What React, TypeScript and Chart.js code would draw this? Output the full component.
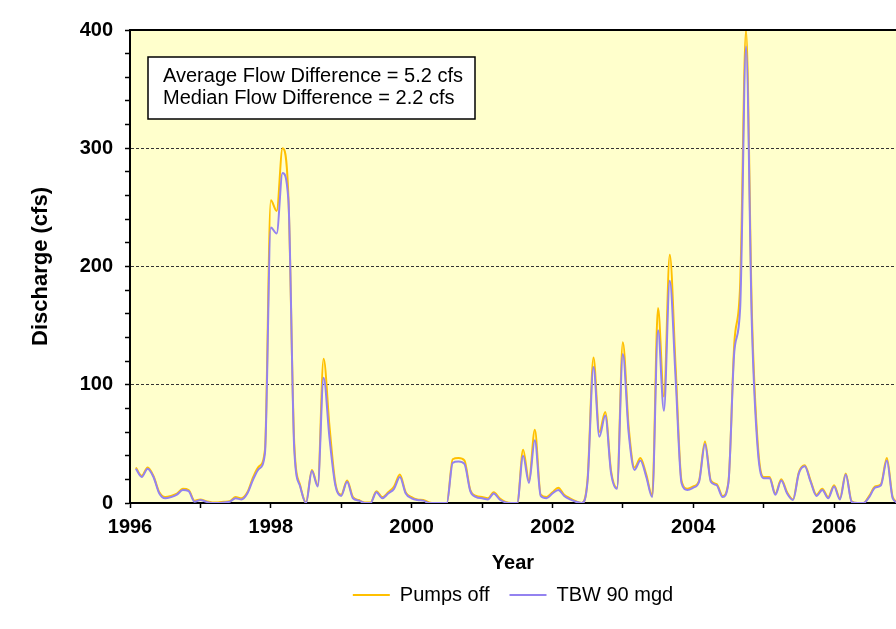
import React, { useEffect, useRef } from 'react';
import { Chart, registerables } from 'chart.js';

Chart.register(...registerables);

// Monthly values, Jan 1996 .. Nov 2006 (plotted at each month's end)
const tbw90: number[] = [
  29, 22, 29, 22, 8, 4, 5, 7, 11, 10, 1, 2.5,
  1, 0, 0, 0.5, 1, 4, 3, 8, 20, 29, 42, 233,
  228, 279, 256, 45, 14, 0, 27, 14, 106, 55, 15, 6,
  18, 4, 2, 0, 0, 9, 4, 8, 12, 22, 8, 4,
  2.5, 2, 0, 0, 0, 0, 34, 35, 33, 10, 5, 4,
  3, 8, 3, 0.5, 0, 0, 40, 17, 53, 6, 4, 8,
  11, 6, 3, 1, 0, 19, 115, 56, 74, 25, 12, 126,
  59, 28, 36, 22, 5, 146, 78, 188, 105, 17, 11, 13,
  18, 50, 18, 15, 5, 17, 128, 165, 386, 150, 45, 21,
  21, 7, 19, 8, 2.5, 25, 31, 18, 6, 11, 4, 14,
  3, 24, 1, 0, 0, 5, 13, 15, 36, 4, 0,
];

const pumpsOff: number[] = [
  30, 23, 30, 23, 9, 5, 6, 8, 12, 11, 2, 3,
  1.5, 0.5, 0.5, 1, 1.5, 5, 4, 9, 22, 31, 45, 256,
  247, 300, 259, 50, 15, 0.5, 28, 15, 122, 65, 17, 7,
  19, 5, 2.5, 0.5, 0.5, 10, 5, 9, 14, 24, 9, 5,
  3, 2.5, 0.5, 0, 0, 0, 37, 38, 36, 11, 6, 5,
  4, 9, 4, 1, 0, 0, 45, 19, 62, 7, 5, 9,
  13, 7, 4, 1.5, 0, 21, 123, 60, 77, 27, 13, 136,
  64, 30, 38, 24, 6, 165, 90, 210, 115, 19, 12, 14,
  19, 52, 19, 16, 6, 18, 135, 185, 400, 160, 50, 22,
  22, 8, 20, 9, 3, 26, 32, 19, 7, 12, 5, 15,
  4, 25, 1.5, 0, 0, 6, 14, 16, 38, 5, 0.5,
];

const START_YEAR = 1996;
const monthX: number[] = tbw90.map((_, i) => START_YEAR + (i + 1) / 12);

const seriesNames = ['TBW 90 mgd', 'Pumps off'];
const statLines = ['Average Flow Difference = 5.2 cfs', 'Median Flow Difference = 2.2 cfs'];
const yLabelTicks = [0, 100, 200, 300, 400];
const xLabelTicks = [1996, 1998, 2000, 2002, 2004, 2006];
const dashedGrid = [100, 200, 300];

const FONT = "'Liberation Sans', Arial, sans-serif";

const plotBg = {
  id: 'plotBg',
  afterLayout(chart: any) {
    // the original legend is centred under a wider plot: shift it right / up
    const lg = chart.legend;
    if (lg) {
      lg.left += 65;
      lg.right += 65;
      lg.top -= 8;
      lg.bottom -= 8;
    }
  },
  beforeDraw(chart: any) {
    const { ctx, chartArea: a } = chart;
    ctx.save();
    ctx.fillStyle = '#FFFFCC';
    ctx.fillRect(a.left, a.top, a.right - a.left, a.bottom - a.top);
    ctx.restore();
  },
  afterDraw(chart: any) {
    const { ctx, chartArea: a } = chart;
    ctx.save();
    ctx.strokeStyle = '#000';
    ctx.lineWidth = 2;
    ctx.beginPath();
    ctx.moveTo(a.left, a.top);
    ctx.lineTo(a.right, a.top);
    ctx.stroke();
    ctx.fillStyle = '#FFFFFF';
    ctx.fillRect(148, 57, 327, 62);
    ctx.lineWidth = 1.5;
    ctx.strokeRect(148, 57, 327, 62);
    ctx.fillStyle = '#000';
    ctx.font = `20px ${FONT}`;
    ctx.textBaseline = 'middle';
    ctx.textAlign = 'left';
    ctx.fillText(statLines[0], 163, 76);
    ctx.fillText(statLines[1], 163, 98);
    ctx.restore();
  },
};

export default function App() {
  const ref = useRef<HTMLCanvasElement>(null);

  useEffect(() => {
    document.body.style.margin = '0';
    const canvas = ref.current!;
    const chart = new Chart(canvas, {
      type: 'line',
      data: {
        datasets: [
          {
            label: seriesNames[0],
            data: monthX.map((x, i) => ({ x, y: tbw90[i] })),
            borderColor: '#9382F0',
            backgroundColor: '#9382F0',
            borderWidth: 2,
            pointRadius: 0,
            cubicInterpolationMode: 'monotone',
          },
          {
            label: seriesNames[1],
            data: monthX.map((x, i) => ({ x, y: pumpsOff[i] })),
            borderColor: '#FFC000',
            backgroundColor: '#FFC000',
            borderWidth: 2,
            pointRadius: 0,
            cubicInterpolationMode: 'monotone',
          },
        ],
      },
      options: {
        animation: false,
        responsive: false,
        maintainAspectRatio: false,
        layout: { padding: { top: 30, left: 0, right: 0, bottom: 6 } },
        plugins: {
          legend: {
            position: 'bottom',
            labels: {
              sort: (a: any, b: any) => b.datasetIndex - a.datasetIndex,
              usePointStyle: true,
              pointStyle: 'line',
              pointStyleWidth: 37,
              boxWidth: 37,
              boxHeight: 2,
              padding: 20,
              color: '#000',
              font: { family: FONT, size: 20 },
            },
          },
          tooltip: { enabled: false },
        },
        scales: {
          x: {
            type: 'linear',
            min: START_YEAR,
            max: 2006.88,
            afterFit: (s: any) => { s.height = 70; },
            ticks: {
              stepSize: 1,
              autoSkip: false,
              includeBounds: false,
              maxRotation: 0,
              padding: 7,
              color: '#000',
              font: { family: FONT, size: 20, weight: 'bold' },
              callback: (v: any) => (xLabelTicks.includes(Number(v)) ? String(v) : ''),
            },
            grid: {
              drawOnChartArea: false,
              tickLength: 5,
              tickColor: '#000',
              tickWidth: 1.5,
            },
            border: { color: '#000', width: 2 },
            title: {
              display: true,
              text: 'Year',
              color: '#000',
              font: { family: FONT, size: 20, weight: 'bold', lineHeight: 1 },
              padding: { top: 0, bottom: 0 },
            },
          },
          y: {
            min: 0,
            max: 400,
            afterFit: (s: any) => { s.width = 130; },
            ticks: {
              stepSize: 20,
              autoSkip: false,
              padding: 12,
              color: '#000',
              font: { family: FONT, size: 20, weight: 'bold' },
              callback: (v: any) => (yLabelTicks.includes(Number(v)) ? String(v) : ''),
            },
            grid: {
              color: (ctx: any) => (dashedGrid.includes(ctx.tick?.value) ? '#333333' : 'rgba(0,0,0,0)'),
              lineWidth: 1,
              tickLength: 5,
              tickColor: '#000',
              tickWidth: 1.5,
              tickBorderDash: [],
            },
            border: { color: '#000', width: 2, dash: [3, 2] },
            title: {
              display: true,
              text: 'Discharge (cfs)',
              color: '#000',
              font: { family: FONT, size: 22, weight: 'bold' },
              padding: { top: 28, bottom: 0 },
            },
          },
        },
      },
      plugins: [plotBg],
    } as any);
    return () => chart.destroy();
  }, []);

  return (
    <div style={{ position: 'fixed', left: 0, top: 0, width: 896, height: 629, background: '#fff' }}>
      <canvas ref={ref} width={896} height={629} style={{ width: 896, height: 629, display: 'block' }} />
    </div>
  );
}
